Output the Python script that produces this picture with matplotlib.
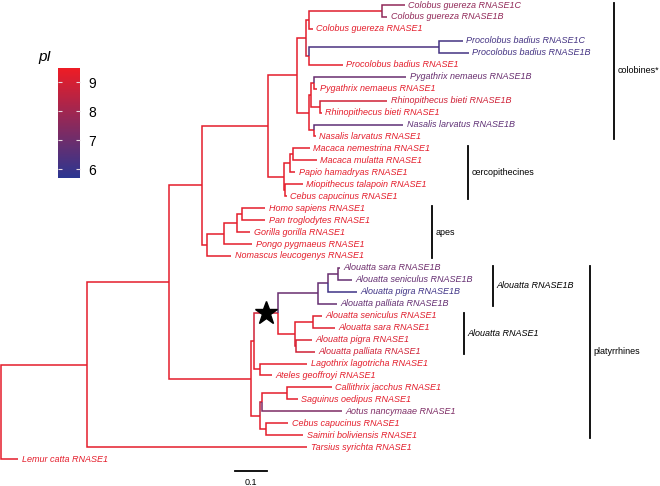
import numpy as np
import matplotlib
matplotlib.use("Agg")
import matplotlib.pyplot as plt
from matplotlib.colors import LinearSegmentedColormap, Normalize
from matplotlib.cm import ScalarMappable

plt.rcParams['font.family'] = ['Liberation Sans', 'DejaVu Sans']

# internal nodes: name, parent, branch length (subst/site), pI
node_name = ["root", "A", "B", "C", "D", "E", "F", "G", "CG", "H", "PB", "I", "J", "PY", "RH", "NA",
             "CE", "MP", "MA", "CM", "AP", "GA", "HPG", "HP", "P", "Q", "S", "U", "V", "W", "X", "Y",
             "Z", "LA", "R", "R2", "CS", "CB"]
node_parent = [None, "root", "A", "B", "C", "D", "E", "F", "G", "F", "H", "E", "I", "J", "J", "I",
               "D", "CE", "MP", "CE", "C", "AP", "GA", "HPG", "B", "P", "Q", "S", "U", "V", "S", "X",
               "X", "Q", "P", "R", "R2", "R"]
node_len = [0.0, 0.269, 0.256, 0.103, 0.206, 0.091, 0.028, 0.009, 0.228, 0.009, 0.406, 0.037, 0.006,
            0.009, 0.028, 0.016, 0.050, 0.019, 0.009, 0.003, 0.016, 0.053, 0.041, 0.016, 0.256, 0.009,
            0.075, 0.125, 0.031, 0.031, 0.053, 0.056, 0.003, 0.019, 0.028, 0.006, 0.078, 0.019]
node_pI = [9.3, 9.3, 9.3, 9.3, 9.3, 9.3, 9.3, 9.3, 9.2, 8.9, 6.3, 9.3, 9.3, 9.3, 9.3, 9.3,
           9.3, 9.3, 9.3, 9.3, 9.3, 9.3, 9.3, 9.3, 9.3, 9.3, 8.9, 6.9, 6.8, 6.9, 9.3, 9.3,
           9.1, 9.3, 9.3, 8.6, 9.3, 9.3]

# tips in plotting order
tip_label = ["Colobus guereza RNASE1C", "Colobus guereza RNASE1B", "Colobus guereza RNASE1",
             "Procolobus badius RNASE1C", "Procolobus badius RNASE1B", "Procolobus badius RNASE1",
             "Pygathrix nemaeus RNASE1B", "Pygathrix nemaeus RNASE1",
             "Rhinopithecus bieti RNASE1B", "Rhinopithecus bieti RNASE1",
             "Nasalis larvatus RNASE1B", "Nasalis larvatus RNASE1",
             "Macaca nemestrina RNASE1", "Macaca mulatta RNASE1", "Papio hamadryas RNASE1",
             "Miopithecus talapoin RNASE1", "Cebus capucinus RNASE1",
             "Homo sapiens RNASE1", "Pan troglodytes RNASE1", "Gorilla gorilla RNASE1",
             "Pongo pygmaeus RNASE1", "Nomascus leucogenys RNASE1",
             "Alouatta sara RNASE1B", "Alouatta seniculus RNASE1B", "Alouatta pigra RNASE1B",
             "Alouatta palliata RNASE1B", "Alouatta seniculus RNASE1", "Alouatta sara RNASE1",
             "Alouatta pigra RNASE1", "Alouatta palliata RNASE1",
             "Lagothrix lagotricha RNASE1", "Ateles geoffroyi RNASE1",
             "Callithrix jacchus RNASE1", "Saguinus oedipus RNASE1", "Aotus nancymaae RNASE1",
             "Cebus capucinus RNASE1", "Saimiri boliviensis RNASE1",
             "Tarsius syrichta RNASE1", "Lemur catta RNASE1"]
tip_parent = ["CG", "CG", "G", "PB", "PB", "H", "PY", "PY", "RH", "RH", "NA", "NA",
              "MA", "MA", "MP", "CM", "CM", "HP", "HP", "HPG", "GA", "AP",
              "W", "W", "V", "U", "Y", "Y", "Z", "Z", "LA", "LA", "CS", "CS", "R2", "CB", "CB",
              "A", "root"]
tip_len = [0.072, 0.016, 0.0125, 0.075, 0.094, 0.106, 0.290, 0.009, 0.210, 0.006, 0.278, 0.006,
           0.053, 0.075, 0.016, 0.056, 0.006, 0.072, 0.072, 0.041, 0.0875, 0.075,
           0.006, 0.044, 0.090, 0.059, 0.028, 0.069, 0.050, 0.059, 0.147, 0.0375,
           0.140, 0.034, 0.250, 0.069, 0.116, 0.688, 0.053]
tip_pI = [7.7, 7.7, 9.3, 6.2, 6.2, 9.3, 6.9, 9.3, 8.9, 9.3, 6.7, 9.3,
          9.3, 9.3, 9.3, 9.3, 9.3, 9.3, 9.3, 9.3, 9.3, 9.3,
          7.0, 6.8, 6.1, 6.8, 9.2, 9.2, 9.1, 8.9, 9.3, 9.3,
          9.3, 9.3, 7.3, 9.3, 9.3, 9.3, 9.3]

# clade bars: label, first tip, last tip, x position
clade_label = ["colobines*", "cercopithecines", "apes", "Alouatta RNASE1B", "Alouatta RNASE1", "platyrrhines"]
clade_tips = [(0, 11), (12, 16), (17, 21), (22, 25), (26, 29), (22, 36)]
clade_x = [1.916, 1.459, 1.347, 1.537, 1.447, 1.841]
clade_italic = [False, False, False, True, True, False]

pI_ticks = [6, 7, 8, 9]
pI_range = (5.7, 9.5)

cmap = LinearSegmentedColormap.from_list("pI", ["#2b3691", "#ee1c25"])
norm = Normalize(*pI_range)

# build tree
parent = dict(zip(node_name, node_parent))
length = dict(zip(node_name, node_len))
pI = dict(zip(node_name, node_pI))
tips = ["t%d" % i for i in range(len(tip_label))]
for t, p, l, v in zip(tips, tip_parent, tip_len, tip_pI):
    parent[t] = p
    length[t] = l
    pI[t] = v
children = {}
for n, p in parent.items():
    if p is not None:
        children.setdefault(p, []).append(n)

xpos, ypos = {}, {}
def place(n, x0):
    xpos[n] = x0 + length[n]
    if n in children:
        ys = [place(c, xpos[n]) for c in children[n]]
        ypos[n] = (min(ys) + max(ys)) / 2
    else:
        ypos[n] = tips.index(n)
    return ypos[n]
place("root", 0.0)

fig = plt.figure(figsize=(6.6, 4.86), dpi=100)
ax = fig.add_axes([0, 0, 1, 1])
ax.set_xlim(-1 / 320, 659 / 320)
ax.set_ylim(40.25, -0.42)
ax.axis("off")

lw = 1.1
for n, p in parent.items():
    if p is None:
        continue
    c = cmap(norm(pI[n]))
    ax.plot([xpos[p], xpos[p], xpos[n]], [ypos[p], ypos[n], ypos[n]], color=c, lw=lw,
            solid_joinstyle="miter", solid_capstyle="butt")

fs = 6.5
for i, t in enumerate(tips):
    ax.annotate(tip_label[i], (xpos[t], ypos[t]), xytext=(2.6, 0), textcoords="offset points",
                ha="left", va="center", fontsize=fs, style="italic", color=cmap(norm(pI[t])))

# star on Alouatta branch
sx = (xpos["Q"] + xpos["S"]) / 2
ax.plot(sx, ypos["S"], marker="*", color="black", markersize=17, zorder=5)

for lab, (a, b), x, it in zip(clade_label, clade_tips, clade_x, clade_italic):
    ax.plot([x, x], [a - 0.2, b + 0.2], color="black", lw=1.3)
    ax.text(x + 0.011, (a + b) / 2, lab, ha="left", va="center", fontsize=fs,
            style="italic" if it else "normal")

# scale bar
ax.plot([0.731, 0.831], [39.0, 39.0], color="black", lw=1.3)
ax.text(0.781, 39.95, "0.1", ha="center", va="center", fontsize=fs)

# colour bar
cax = fig.add_axes([58 / 660, 1 - 178 / 486, 22 / 660, 110 / 486])
sm = ScalarMappable(norm=norm, cmap=cmap)
cb = fig.colorbar(sm, cax=cax, ticks=pI_ticks)
cb.outline.set_visible(False)
cax.tick_params(direction="in", length=3, color="#e8d8e0", left=True, right=True,
                labelsize=10, pad=6)
fig.text(45 / 660, 1 - 57 / 486, "pI", ha="center", va="center", fontsize=11, style="italic")

fig.savefig("out.png", dpi=100)
